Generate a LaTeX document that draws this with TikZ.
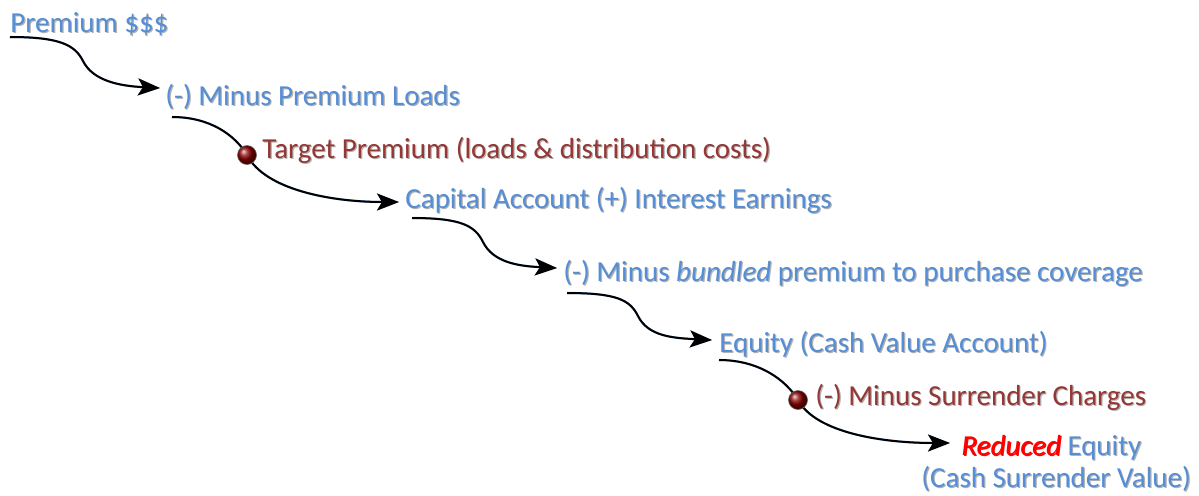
\documentclass[tikz,border=0pt]{standalone}
\usepackage{fontspec}
\setmainfont{Carlito}
\usetikzlibrary{arrows.meta,shadings}
\definecolor{tblue}{HTML}{558ED5}
\definecolor{tred}{HTML}{953735}
\definecolor{ashadow}{HTML}{8EB4E3}
\tikzset{
  lbl/.style={anchor=base west,inner sep=0pt,font=\fontsize{14.5}{17}\selectfont},
  flow/.style={line width=1pt,black},
  flowtip/.style={-{Stealth[length=11pt,width=8.5pt,inset=2.5pt]}},
  flowsh/.style={line width=1.1pt,ashadow,xshift=1.1pt,yshift=-1.1pt},
  dot/.style={circle,minimum size=9.5pt,inner sep=0pt,shading=ball,ball color=red!55!black,draw=black!60,line width=0.3pt},
}
\newcommand\lbl[4]{%
  \node[lbl,text=black!30] at ([xshift=0.6pt,yshift=-0.6pt]#2) {#4};
  \node[lbl,text=#3] (#1) at (#2) {#4};}
\begin{document}
\begin{tikzpicture}[x=0.5pt,y=-0.5pt]
\useasboundingbox (0,0) rectangle (1199,495);
% labels
\lbl{t1}{10,32}{tblue}{Premium \$\$\$}
\lbl{t2}{165,105}{tblue}{(-) Minus Premium Loads}
\lbl{t3}{262,158}{tred}{Target Premium (loads \& distribution costs)}
\lbl{t4}{405,208}{tblue}{Capital Account (+) Interest Earnings}
\lbl{t5}{563,281}{tblue}{(-) Minus \textit{bundled} premium to purchase coverage}
\lbl{t6}{719,352}{tblue}{Equity (Cash Value Account)}
\lbl{t7}{815,405}{tred}{(-) Minus Surrender Charges}
\lbl{t8}{961,455}{tblue}{\textcolor{red}{\textit{Reduced}} Equity}
\lbl{t9}{921,487}{tblue}{(Cash Surrender Value)}
% coordinates
\coordinate (a1s) at (10,37);   \coordinate (a1e) at (160,88);
\coordinate (a2s) at (172,117); \coordinate (d1) at (247,155); \coordinate (a2e) at (399,202);
\coordinate (a3s) at (412,218); \coordinate (a3e) at (557,268);
\coordinate (a4s) at (567,293); \coordinate (a4e) at (712,340);
\coordinate (a5s) at (719,360); \coordinate (d2) at (798,400); \coordinate (a5e) at (950,443);
% shadows
\begin{scope}[flowsh]
\draw[flowtip] (a1s) .. controls +(50,0) and +(-8,-16) .. ([shift={(73,24)}]a1s) .. controls +(10,20) and +(-40,-2) .. (a1e);
\draw (a2s) .. controls +(38,0) and +(-12,-20) .. (d1);
\draw[flowtip] (d1) .. controls +(18,35) and +(-67,0) .. (a2e);
\draw[flowtip] (a3s) .. controls +(50,0) and +(-8,-16) .. ([shift={(71,24)}]a3s) .. controls +(10,20) and +(-40,-2) .. (a3e);
\draw[flowtip] (a4s) .. controls +(50,0) and +(-8,-16) .. ([shift={(71,23)}]a4s) .. controls +(10,20) and +(-40,-2) .. (a4e);
\draw (a5s) .. controls +(40,0) and +(-12,-20) .. (d2);
\draw[flowtip] (d2) .. controls +(18,33) and +(-67,0) .. (a5e);
\end{scope}
% arrows
\draw[flow,flowtip] (a1s) .. controls +(50,0) and +(-8,-16) .. ([shift={(73,24)}]a1s) .. controls +(10,20) and +(-40,-2) .. (a1e);
\draw[flow] (a2s) .. controls +(38,0) and +(-12,-20) .. (d1);
\draw[flow,flowtip] (d1) .. controls +(18,35) and +(-67,0) .. (a2e);
\draw[flow,flowtip] (a3s) .. controls +(50,0) and +(-8,-16) .. ([shift={(71,24)}]a3s) .. controls +(10,20) and +(-40,-2) .. (a3e);
\draw[flow,flowtip] (a4s) .. controls +(50,0) and +(-8,-16) .. ([shift={(71,23)}]a4s) .. controls +(10,20) and +(-40,-2) .. (a4e);
\draw[flow] (a5s) .. controls +(40,0) and +(-12,-20) .. (d2);
\draw[flow,flowtip] (d2) .. controls +(18,33) and +(-67,0) .. (a5e);
% dots
\node[dot] (dot1) at (d1) {};
\node[dot] (dot2) at (d2) {};
\end{tikzpicture}
\end{document}
